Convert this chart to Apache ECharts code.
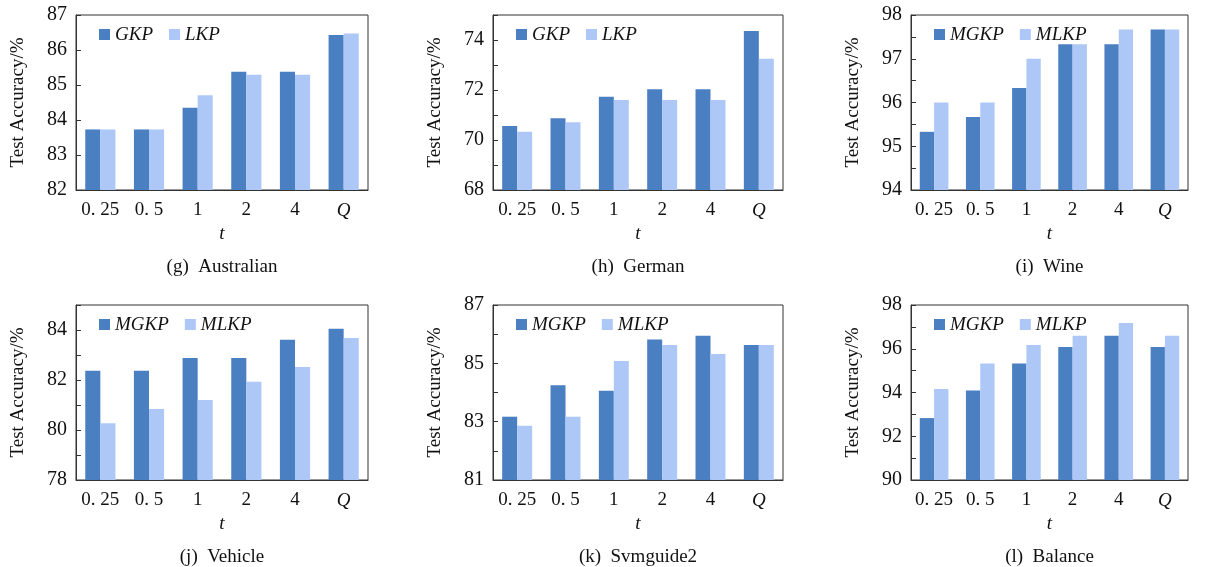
<!DOCTYPE html>
<html>
<head>
<meta charset="utf-8">
<script src="https://cdn.jsdelivr.net/npm/echarts@6/dist/echarts.min.js"></script>
<style>html,body{margin:0;padding:0;background:#fff}#c{width:1210px;height:567px}</style>
</head>
<body>
<div id="c"></div>
<script>
// ---- data ----
const categories = ['0. 25', '0. 5', '1', '2', '4', 'Q'];

const australianGKP = [83.73, 83.73, 84.35, 85.38, 85.38, 86.43];
const australianLKP = [83.73, 83.73, 84.71, 85.29, 85.29, 86.47];

const germanGKP = [70.56, 70.87, 71.73, 72.03, 72.03, 74.36];
const germanLKP = [70.33, 70.71, 71.60, 71.60, 71.60, 73.25];

const wineMGKP = [95.33, 95.67, 96.33, 97.33, 97.33, 97.67];
const wineMLKP = [96.00, 96.00, 97.00, 97.33, 97.67, 97.67];

const vehicleMGKP = [82.37, 82.37, 82.88, 82.88, 83.61, 84.05];
const vehicleMLKP = [80.27, 80.84, 81.20, 81.93, 82.52, 83.68];

const svmMGKP = [83.17, 84.25, 84.06, 85.82, 85.95, 85.63];
const svmMLKP = [82.86, 83.17, 85.08, 85.63, 85.32, 85.63];

const balanceMGKP = [92.83, 94.09, 95.33, 96.08, 96.60, 96.08];
const balanceMLKP = [94.16, 95.33, 96.17, 96.60, 97.18, 96.60];

const captions = ['(g)  Australian', '(h)  German', '(i)  Wine', '(j)  Vehicle', '(k)  Svmguide2', '(l)  Balance'];
const seriesNamesTop = ['GKP', 'LKP'];
const seriesNamesM = ['MGKP', 'MLKP'];

// y-axis ranges: [min, max, interval, minorSplit]
const yRanges = [
  [82, 87, 1, 0],
  [68, 75, 2, 2],
  [94, 98, 1, 2],
  [78, 85, 2, 2],
  [81, 87, 2, 2],
  [90, 98, 2, 2]
];

const panels = [
  {names: seriesNamesTop, a: australianGKP, b: australianLKP},
  {names: seriesNamesTop, a: germanGKP, b: germanLKP},
  {names: seriesNamesM, a: wineMGKP, b: wineMLKP},
  {names: seriesNamesM, a: vehicleMGKP, b: vehicleMLKP},
  {names: seriesNamesM, a: svmMGKP, b: svmMLKP},
  {names: seriesNamesM, a: balanceMGKP, b: balanceMLKP}
];

// ---- layout ----
const rects = [
  [76, 15, 292, 175],
  [493, 15, 290, 175],
  [911, 15, 277, 175],
  [76, 305, 292, 175],
  [493, 305, 290, 175],
  [911, 305, 277, 175]
];
const DARK = '#4a7fc2';
const LIGHT = '#adc8f6';
const FONT = '"Liberation Serif", "DejaVu Serif", serif';

const grids = [], xAxes = [], yAxes = [], series = [], legends = [], graphics = [];
rects.forEach((r, i) => {
  const [l, t, w, h] = r;
  const yr = yRanges[i];
  const p = panels[i];
  grids.push({left: l, top: t, width: w, height: h, show: true, borderColor: '#333', borderWidth: 1, backgroundColor: 'transparent'});
  xAxes.push({
    type: 'category', gridIndex: i, data: categories,
    axisLine: {show: true, lineStyle: {color: '#333', width: 1}},
    axisTick: {show: false},
    axisLabel: {
      interval: 0,
      color: '#111', fontFamily: FONT, fontSize: 19, margin: 11,
      formatter: v => v === 'Q' ? '{q|Q}' : v,
      rich: {q: {fontStyle: 'italic', fontFamily: FONT, fontSize: 19, color: '#111'}}
    },
    name: 't', nameLocation: 'middle', nameGap: 34,
    nameTextStyle: {fontStyle: 'italic', fontFamily: FONT, fontSize: 19, color: '#111'}
  });
  yAxes.push({
    type: 'value', gridIndex: i, min: yr[0], max: yr[1], interval: yr[2],
    axisLine: {show: true, lineStyle: {color: '#333', width: 1}},
    axisTick: {show: true, inside: true, length: 5, lineStyle: {color: '#333'}},
    minorTick: {show: yr[3] > 0, splitNumber: yr[3] || 5, length: 5, lineStyle: {color: '#333'}},
    splitLine: {show: false},
    axisLabel: {
      color: '#111', fontFamily: FONT, fontSize: 20, margin: 9,
      formatter: v => (v <= yr[1] && ((v - yr[0]) % yr[2] === 0)) ? String(v) : ''
    },
    name: 'Test Accuracy/%', nameLocation: 'middle', nameRotate: 90, nameGap: 48,
    nameTextStyle: {fontFamily: FONT, fontSize: 19, color: '#111'}
  });
  series.push({
    type: 'bar', name: p.names[0] + '_' + i, xAxisIndex: i, yAxisIndex: i, data: p.a,
    itemStyle: {color: DARK}, barGap: '0%', barCategoryGap: '38%'
  });
  series.push({
    type: 'bar', name: p.names[1] + '_' + i, xAxisIndex: i, yAxisIndex: i, data: p.b,
    itemStyle: {color: LIGHT}, barGap: '0%', barCategoryGap: '38%'
  });
  legends.push({
    left: l + 18, top: t + 5, orient: 'horizontal',
    data: [p.names[0] + '_' + i, p.names[1] + '_' + i],
    formatter: n => n.split('_')[0],
    icon: 'rect', itemWidth: 11, itemHeight: 11, itemGap: 16,
    textStyle: {fontFamily: FONT, fontStyle: 'italic', fontSize: 19, color: '#111', padding: [0, 0, 0, 0]},
    selectedMode: false
  });
  graphics.push({
    type: 'text', x: l + w / 2, y: t + h + 77,
    style: {text: captions[i], font: '19px ' + FONT, fill: '#111', textAlign: 'center', textVerticalAlign: 'middle'}
  });
});

const chart = echarts.init(document.getElementById('c'), null, {renderer: 'canvas'});
chart.setOption({
  backgroundColor: '#fff',
  animation: false,
  grid: grids, xAxis: xAxes, yAxis: yAxes, series: series, legend: legends,
  graphic: graphics
});
</script>
</body>
</html>
